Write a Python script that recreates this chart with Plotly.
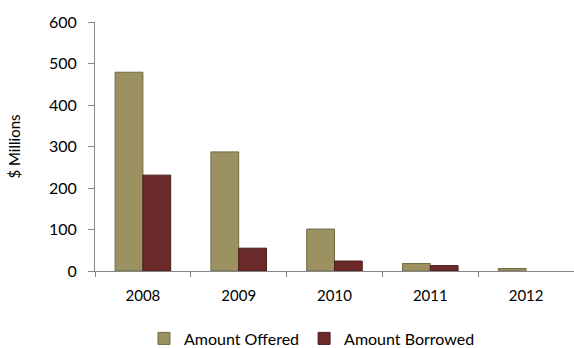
import plotly.graph_objects as go

years = ["2008", "2009", "2010", "2011", "2012"]
amount_offered = [479, 287, 101, 18, 6]
amount_borrowed = [231, 55, 24, 13, 0]

fig = go.Figure()
fig.add_trace(go.Bar(
    x=years, y=amount_offered, name="Amount Offered",
    marker=dict(color="#9c9160", line=dict(color="#6f6a45", width=1)),
))
fig.add_trace(go.Bar(
    x=years, y=amount_borrowed, name="Amount Borrowed",
    marker=dict(color="#6b2a2a", line=dict(color="#4a1c1c", width=[1, 1, 1, 1, 0])),
))

font = "Lato, Calibri, 'Noto Sans', sans-serif"
fig.update_layout(
    width=574, height=348,
    margin=dict(l=95, r=0, t=22, b=77, autoexpand=False),
    paper_bgcolor="white", plot_bgcolor="white",
    barmode="group", bargap=0.42, bargroupgap=0,
    font=dict(family=font, size=15, color="#000000"),
    showlegend=True,
    legend=dict(orientation="h", x=0.453, xanchor="center", yref="paper", y=-0.271,
                yanchor="middle", font=dict(size=16), itemwidth=30, traceorder="normal"),
    xaxis=dict(showline=True, linecolor="#868686", linewidth=1, automargin=False,
               ticks="outside", tickson="boundaries", tickcolor="#868686", ticklen=5,
               showgrid=False, tickfont=dict(size=15), ticklabelstandoff=11),
    yaxis=dict(range=[0, 600], dtick=100, showline=True, linecolor="#868686", linewidth=1,
               automargin=False,
               ticks="outside", tickcolor="#868686", ticklen=6, showgrid=False,
               zeroline=False, tickfont=dict(size=16), ticklabelstandoff=8,
               title=dict(text="$ Millions", font=dict(size=15), standoff=24)),
)

fig.write_html("out.html", config={"displayModeBar": False},
               post_script="document.body.style.margin='0';")
